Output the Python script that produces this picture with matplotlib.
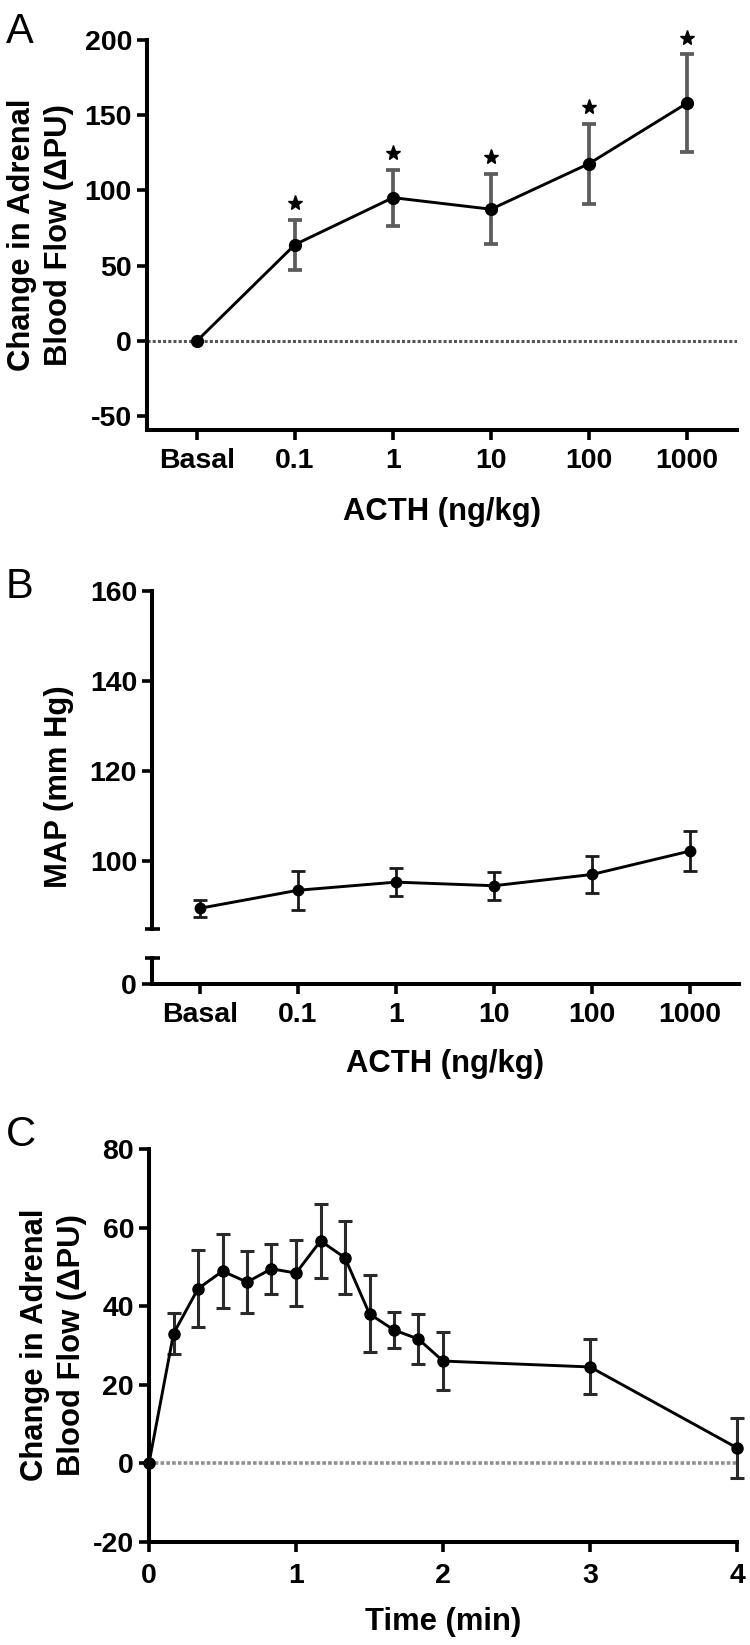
import matplotlib
matplotlib.use("Agg")
import matplotlib.pyplot as plt
import numpy as np

plt.rcParams['font.family'] = ['Liberation Sans', 'DejaVu Sans']
plt.rcParams['font.weight'] = 'bold'
plt.rcParams['axes.unicode_minus'] = False

# panel A: change in adrenal blood flow per ACTH dose
dose_labels = ["Basal", "0.1", "1", "10", "100", "1000"]
flow_mean = [0, 64, 95.2, 87.5, 117.8, 158]
flow_sem = [0, 16.6, 18.7, 23.4, 26.5, 32.4]
flow_sig = [False, True, True, True, True, True]

# panel B: mean arterial pressure per ACTH dose
map_mean = [89.6, 93.6, 95.4, 94.6, 97.1, 102.3]
map_sem = [1.9, 4.3, 3.1, 3.1, 4.2, 4.4]

# panel C: time course of blood flow change
time_min = [0, 0.167, 0.333, 0.5, 0.667, 0.833, 1, 1.167, 1.333, 1.5, 1.667, 1.833, 2, 3, 4]
time_flow = [0, 33, 44.4, 48.9, 46.1, 49.5, 48.4, 56.6, 52.3, 38, 33.9, 31.6, 26, 24.5, 3.9]
time_sem = [0, 5.2, 9.8, 9.5, 7.8, 6.3, 8.5, 9.5, 9.3, 9.8, 4.5, 6.4, 7.3, 7, 7.6]

W, H = 750, 1645
fig = plt.figure(figsize=(W / 100, H / 100), dpi=100)


def box(left, top, right, bottom):
    # pixel box -> figure fraction rect
    return [left / W, 1 - bottom / H, (right - left) / W, (bottom - top) / H]


def style(ax, pad=6):
    for s in ['top', 'right']:
        ax.spines[s].set_visible(False)
    for s in ['left', 'bottom']:
        ax.spines[s].set_linewidth(2.9)
    ax.tick_params(direction='out', length=7.2, width=2.6, labelsize=20.5)
    ax.tick_params(axis='x', pad=pad)
    ax.tick_params(axis='y', pad=3.6)


def fig_text(x, y, s, **kw):
    fig.text(x / W, 1 - y / H, s, **kw)


def draw_series(ax, x, y, err, ecolor, elw, ms):
    x = np.asarray(x, dtype=float)
    y = np.asarray(y, dtype=float)
    err = np.asarray(err, dtype=float)
    has = err > 0
    ax.errorbar(x[has], y[has], yerr=err[has], fmt='none', ecolor=ecolor,
                elinewidth=elw, capsize=5.2, capthick=elw, zorder=3, clip_on=False)
    ax.plot(x, y, '-o', color='black', lw=2.1, ms=ms, zorder=4, clip_on=False)


# ---- A ----
axA = fig.add_axes(box(147, 40, 737, 429.6))
style(axA, pad=6)
xA = np.arange(len(dose_labels))
axA.axhline(0, color='#555555', lw=2.2, ls=(0, (1, 0.7)), zorder=1)
draw_series(axA, xA, flow_mean, flow_sem, '#5c5c5c', 2.7, 8.5)
sig = np.array(flow_sig)
star_y = np.array(flow_mean) + np.array(flow_sem) + 11
axA.plot(xA[sig], star_y[sig], '*', color='black', ms=11, ls='none', clip_on=False)
axA.set_xlim(-0.51, 5.51)
axA.set_ylim(-59, 200)
axA.set_yticks([-50, 0, 50, 100, 150, 200])
axA.set_xticks(xA)
axA.set_xticklabels(dose_labels)

# ---- B (broken y axis) ----
axB = fig.add_axes(box(152, 591, 739, 929))
axB0 = fig.add_axes(box(152, 958, 739, 984))
style(axB)
style(axB0, pad=6)
axB.spines['bottom'].set_visible(False)
axB.tick_params(axis='x', bottom=False, labelbottom=False)
xB = np.arange(len(dose_labels))
draw_series(axB, xB, map_mean, map_sem, '#1a1a1a', 2.0, 7.5)
axB.set_xlim(-0.49, 5.5)
axB.set_ylim(85, 160)
axB.set_yticks([100, 120, 140, 160])
axB0.set_xlim(-0.49, 5.5)
axB0.set_ylim(0, 5.77)
axB0.set_yticks([0])
axB0.set_xticks(xB)
axB0.set_xticklabels(dose_labels)
# break caps on the y axis
axB.plot([0], [0], marker='_', ms=10.8, mew=2.6, color='black',
         transform=axB.transAxes, clip_on=False)
axB0.plot([0], [1], marker='_', ms=10.8, mew=2.6, color='black',
          transform=axB0.transAxes, clip_on=False)

# ---- C ----
axC = fig.add_axes(box(149, 1149, 737, 1541.7))
style(axC, pad=8)
axC.axhline(0, color='#8f8f8f', lw=2.6, ls=(0, (1, 0.6)), zorder=1)
draw_series(axC, time_min, time_flow, time_sem, '#2a2a2a', 2.2, 8)
axC.set_xlim(0, 4)
axC.set_ylim(-20, 80)
axC.set_yticks([-20, 0, 20, 40, 60, 80])
axC.set_xticks([0, 1, 2, 3, 4])

# axis titles
lab = dict(fontsize=22.3, fontweight='bold', rotation=90, rotation_mode='anchor',
           ha='center', va='baseline')
fig_text(30, 235, "Change in Adrenal", **lab)
fig_text(67, 235, "Blood Flow (\u0394PU)", **lab)
fig_text(67, 787, "MAP (mm Hg)", **lab)
fig_text(43, 1345, "Change in Adrenal", **lab)
fig_text(80, 1345, "Blood Flow (\u0394PU)", **lab)

xl = dict(fontsize=22.3, fontweight='bold', ha='center', va='baseline')
fig_text(442, 520, "ACTH (ng/kg)", **xl)
fig_text(445, 1072, "ACTH (ng/kg)", **xl)
fig_text(443, 1630, "Time (min)", **xl)

# panel letters
pl = dict(fontsize=30, fontweight='normal', ha='left', va='baseline')
fig_text(6, 43, "A", **pl)
fig_text(6, 598, "B", **pl)
fig_text(6, 1146, "C", **pl)

fig.savefig("out.png", dpi=100)
